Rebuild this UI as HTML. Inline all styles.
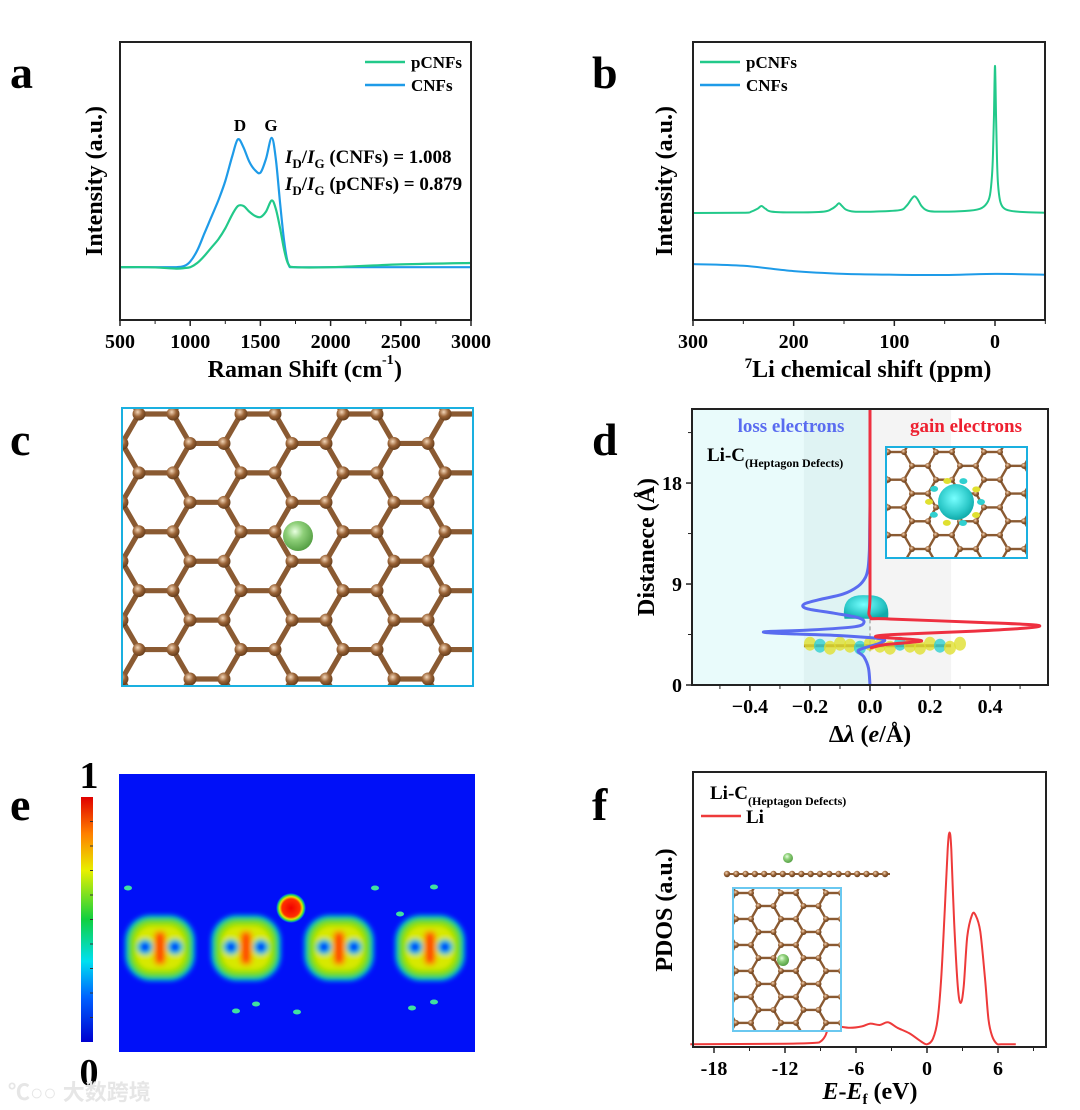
<!DOCTYPE html>
<html><head><meta charset="utf-8"><style>
html,body{margin:0;padding:0;background:#fff;}
svg{display:block;font-family:"Liberation Serif",serif;font-weight:bold;}
</style></head><body>
<svg id="fig" width="1080" height="1110" viewBox="0 0 1080 1110" xmlns="http://www.w3.org/2000/svg">
<defs>
<radialGradient id="liG" cx="0.4" cy="0.35" r="0.7"><stop offset="0" stop-color="#e8ffe0"/><stop offset="0.4" stop-color="#8fd07a"/><stop offset="1" stop-color="#4f9a3e"/></radialGradient>
<radialGradient id="cG" cx="0.4" cy="0.35" r="0.7"><stop offset="0" stop-color="#f3d6b8"/><stop offset="0.5" stop-color="#9a6336"/><stop offset="1" stop-color="#5e3818"/></radialGradient>
<radialGradient id="cyG" cx="0.45" cy="0.4" r="0.6"><stop offset="0" stop-color="#7ff"/><stop offset="0.7" stop-color="#2cc9c9"/><stop offset="1" stop-color="#1aa"/></radialGradient>
<linearGradient id="cbar" x1="0" y1="1" x2="0" y2="0">
<stop offset="0" stop-color="#0000d0"/><stop offset="0.18" stop-color="#0060ff"/><stop offset="0.33" stop-color="#00e0f0"/><stop offset="0.5" stop-color="#10d040"/><stop offset="0.7" stop-color="#e8f000"/><stop offset="0.85" stop-color="#ff8000"/><stop offset="1" stop-color="#e00000"/></linearGradient>
<radialGradient id="liBlob"><stop offset="0" stop-color="#f00000"/><stop offset="0.6" stop-color="#ff3000"/><stop offset="0.75" stop-color="#e8e000"/><stop offset="0.88" stop-color="#20d060"/><stop offset="1" stop-color="#00b0ff" stop-opacity="0"/></radialGradient>
<filter id="blur2"><feGaussianBlur stdDeviation="2.5"/></filter>
<clipPath id="clipC"><rect x="122" y="408" width="351" height="278"/></clipPath>
<clipPath id="clipD"><rect x="886" y="447" width="141" height="111"/></clipPath>
<clipPath id="clipF"><rect x="733" y="888" width="108" height="143"/></clipPath>
</defs>
<g id="root"></g>
<text x="8" y="1100" font-family="Liberation Sans, Noto Sans CJK SC, sans-serif" font-size="22" fill="#e6e6e6">℃○○ 大数跨境</text>
</svg>
<script>
// ---------- Panel a data ----------
const ramanX = [500,700,900,960,1000,1050,1100,1150,1200,1250,1300,1340,1380,1420,1460,1500,1540,1580,1610,1640,1670,1700,1750,2000,2500,3000];
const ramanCNFs = [0.19,0.19,0.19,0.195,0.21,0.25,0.31,0.37,0.43,0.50,0.59,0.65,0.62,0.57,0.54,0.53,0.58,0.655,0.58,0.42,0.28,0.2,0.19,0.19,0.19,0.19];
const ramanPCNFs = [0.19,0.19,0.185,0.187,0.19,0.205,0.23,0.26,0.29,0.33,0.38,0.41,0.41,0.39,0.375,0.37,0.39,0.43,0.40,0.33,0.25,0.2,0.19,0.19,0.20,0.205];
const ramanTicks = [500,1000,1500,2000,2500,3000];
// ---------- Panel b data ----------
const nmrX = [300,250,242,236,232,228,222,200,170,162,158,155,152,148,140,120,95,88,83,80,77,73,68,60,30,15,8,5,3,2,1,0.5,0,-0.5,-1,-2,-3,-5,-8,-15,-30,-50];
const nmrPCNFs = [0.385,0.386,0.39,0.40,0.41,0.40,0.39,0.387,0.39,0.40,0.41,0.42,0.41,0.397,0.39,0.39,0.395,0.41,0.435,0.445,0.435,0.41,0.395,0.39,0.392,0.40,0.42,0.45,0.52,0.60,0.74,0.85,0.914,0.85,0.74,0.58,0.49,0.43,0.405,0.393,0.388,0.386];
const nmrCNFsX = [300,250,200,150,100,50,0,-50];
const nmrCNFs = [0.201,0.195,0.176,0.166,0.163,0.162,0.166,0.163];
const nmrTicks = [300,200,100,0];
// ---------- Panel d data ----------
const lossD = [0,1.5,2.5,3.0,3.3,3.7,4.1,4.4,4.6,4.75,4.9,5.2,5.6,6.0,6.4,6.8,7.2,7.6,8.1,8.8,9.6,10.5,12,14,16];
const lossV = [0,-0.005,-0.02,-0.04,-0.02,0.03,0.04,-0.1,-0.3,-0.35,-0.2,-0.05,-0.02,-0.04,-0.12,-0.21,-0.22,-0.17,-0.09,-0.04,-0.015,-0.006,-0.002,-0.001,0];
const gainD = [3.3,3.6,3.9,4.1,4.3,4.5,4.8,5.1,5.35,5.6,5.9,6.1,8,16,24.6];
const gainV = [0.0,0.05,0.17,0.12,0.02,0.08,0.35,0.53,0.55,0.35,0.05,0.0,0.0,0.0,0.0];
const dXTicks = [-0.4,-0.2,0.0,0.2,0.4];
const dYTicks = [0,9,18];
// ---------- Panel f data ----------
const pdosE = [-20,-12,-9.5,-9,-8.6,-8.2,-7.5,-6.5,-5.5,-4.8,-4,-3.3,-2.5,-1.5,-0.5,0,0.5,0.9,1.2,1.5,1.75,1.9,2.05,2.3,2.6,2.85,3.1,3.4,3.8,4.1,4.5,4.9,5.2,5.5,5.9,6.3,7.5];
const pdosV = [0.01,0.012,0.015,0.02,0.04,0.08,0.075,0.07,0.075,0.085,0.08,0.09,0.07,0.05,0.02,0.01,0.03,0.1,0.25,0.5,0.72,0.78,0.72,0.45,0.22,0.16,0.22,0.40,0.48,0.48,0.42,0.25,0.1,0.04,0.012,0.01,0.01];
const pdosTicks = [-18,-12,-6,0,6];
// ---------- Panel e data ----------
const blobX = [160,246,339,430];

const NS='http://www.w3.org/2000/svg';
const root=document.getElementById('root');
function el(tag,attrs,parent,txt){const e=document.createElementNS(NS,tag);for(const k in attrs)e.setAttribute(k,attrs[k]);if(txt!==undefined)e.textContent=txt;(parent||root).appendChild(e);return e;}
function lin(d0,d1,r0,r1){return v=>r0+(v-d0)/(d1-d0)*(r1-r0);}
function smooth(xs,ys,fx,fy){const p=xs.map((x,i)=>[fx(x),fy(ys[i])]);let d='M'+p[0][0].toFixed(1)+','+p[0][1].toFixed(1);
  for(let i=0;i<p.length-1;i++){const p0=p[i-1]||p[i],p1=p[i],p2=p[i+1],p3=p[i+2]||p2;
   const c1=[p1[0]+(p2[0]-p0[0])/6,p1[1]+(p2[1]-p0[1])/6],c2=[p2[0]-(p3[0]-p1[0])/6,p2[1]-(p3[1]-p1[1])/6];
   d+=` C${c1[0].toFixed(1)},${c1[1].toFixed(1)} ${c2[0].toFixed(1)},${c2[1].toFixed(1)} ${p2[0].toFixed(1)},${p2[1].toFixed(1)}`;}return d;}
function box(x,y,w,h,name,stroke){const r=el('rect',{x,y,width:w,height:h,fill:'none',stroke:stroke||'#222','stroke-width':2});return r;}
function label(x,y,t,name,size,extra){const e=el('text',Object.assign({x,y,'font-size':size||46,fill:'#000'},extra||{}),root,t);return e;}
function xticks(ticks,fx,y0,name,fmt,minor){const g=el('g',{});
  ticks.forEach(t=>{el('line',{x1:fx(t),x2:fx(t),y1:y0,y2:y0+6,stroke:'#222','stroke-width':1.5},g);
   const tx=el('text',{x:fx(t),y:y0+28,'text-anchor':'middle','font-size':20},g,fmt?fmt(t):String(t));});
  (minor||[]).forEach(t=>el('line',{x1:fx(t),x2:fx(t),y1:y0,y2:y0+4,stroke:'#222','stroke-width':1},g));}
function line(xs,ys,fx,fy,color,w,name){const p=el('path',{d:smooth(xs,ys,fx,fy),fill:'none',stroke:color,'stroke-width':w,'stroke-linejoin':'round'});return p;}

// ===== Panel a =====
{const fx=lin(500,3000,120,471), fy=lin(0,1,320,42);
label(10,88,'a','panel-label-a');
line(ramanX,ramanCNFs,fx,fy,'#1e9be8',2.2,'cnfs-raman-line');
line(ramanX,ramanPCNFs,fx,fy,'#22c98a',2.2,'pcnfs-raman-line');
box(120,42,351,278,'plot-frame-a');
xticks(ramanTicks,fx,320,'x-axis-a',null,[750,1250,1750,2250,2750]);
label(295,377,'Raman Shift (cm','x-axis-title-a',24,{'text-anchor':'middle'});
label(382,364,'-1','x-axis-sup-a',14);label(394,377,')','x-axis-paren-a',24);
label(102,181,'Intensity (a.u.)','y-axis-title-a',24,{'text-anchor':'middle',transform:'rotate(-90 102 181)'});
label(240,131,'D','peak-label-d',17,{'text-anchor':'middle'});label(271,131,'G','peak-label-g',17,{'text-anchor':'middle'});
const t1=label(285,163,'','ratio-cnfs',19);t1.innerHTML='<tspan font-style="italic">I</tspan><tspan font-size="13" dy="5">D</tspan><tspan dy="-5">/</tspan><tspan font-style="italic">I</tspan><tspan font-size="13" dy="5">G</tspan><tspan dy="-5"> (CNFs) = 1.008</tspan>';
const t2=label(285,190,'','ratio-pcnfs',19);t2.innerHTML='<tspan font-style="italic">I</tspan><tspan font-size="13" dy="5">D</tspan><tspan dy="-5">/</tspan><tspan font-style="italic">I</tspan><tspan font-size="13" dy="5">G</tspan><tspan dy="-5"> (pCNFs) = 0.879</tspan>';
el('line',{x1:365,x2:405,y1:62,y2:62,stroke:'#22c98a','stroke-width':2.5});label(411,68,'pCNFs','legend-pcnfs-a',17);
el('line',{x1:365,x2:405,y1:85,y2:85,stroke:'#1e9be8','stroke-width':2.5});label(411,91,'CNFs','legend-cnfs-a',17);}

// ===== Panel b =====
{const fx=lin(300,0,693,995), fy=lin(0,1,320,42);
label(592,88,'b','panel-label-b');
line(nmrX,nmrPCNFs,fx,fy,'#22c98a',2,'pcnfs-nmr-line');
line(nmrCNFsX,nmrCNFs,fx,fy,'#1e9be8',2,'cnfs-nmr-line');
box(693,42,352,278,'plot-frame-b');
xticks(nmrTicks,fx,320,'x-axis-b',null,[250,150,50,-50]);
const xt=label(868,377,'','x-axis-title-b',24,{'text-anchor':'middle'});xt.innerHTML='<tspan font-size="15" dy="-9">7</tspan><tspan dy="9">Li chemical shift (ppm)</tspan>';
label(672,181,'Intensity (a.u.)','y-axis-title-b',24,{'text-anchor':'middle',transform:'rotate(-90 672 181)'});
el('line',{x1:700,x2:740,y1:62,y2:62,stroke:'#22c98a','stroke-width':2.5});label(746,68,'pCNFs','legend-pcnfs-b',17);
el('line',{x1:700,x2:740,y1:85,y2:85,stroke:'#1e9be8','stroke-width':2.5});label(746,91,'CNFs','legend-cnfs-b',17);}

// ===== lattice helper =====
function lattice(x0,y0,a,cols,rows,clip,name,r){
  const g=el('g',{'clip-path':'url(#'+clip+')'});
  const h=Math.sqrt(3)/2*a, pts=[];
  for(let j=-1;j<rows;j++)for(let i=-1;i<cols;i++){const off=(j%2+2)%2?1.5*a:0;const bx=x0+i*3*a+off, by=y0+j*h;pts.push([bx,by],[bx+a,by]);}
  const bonds=[];
  for(let m=0;m<pts.length;m++)for(let n=m+1;n<pts.length;n++){const dx=pts[m][0]-pts[n][0],dy=pts[m][1]-pts[n][1];const d=Math.hypot(dx,dy);if(Math.abs(d-a)<0.5)bonds.push([pts[m],pts[n]]);}
  bonds.forEach(b=>el('line',{x1:b[0][0],y1:b[0][1],x2:b[1][0],y2:b[1][1],stroke:'#8a5a32','stroke-width':r*0.8},g));
  pts.forEach(p=>el('circle',{cx:p[0],cy:p[1],r:r,fill:'url(#cG)'},g));
  return g;}

// ===== Panel c =====
label(10,455,'c','panel-label-c');
el('rect',{x:122,y:408,width:351,height:278,fill:'#fff'});
lattice(139,414,34,5,11,'clipC','graphene-lattice-c',6.5);
{const li=el('circle',{cx:298,cy:536,r:15,fill:'url(#liG)'});}
box(122,408,351,278,'image-frame-c','#1ab0e0');

// ===== Panel d =====
{const fx=lin(-0.593,0.593,692,1048), fy=lin(0,24.6,685,409);
label(592,455,'d','panel-label-d');
el('rect',{x:692,y:409,width:fx(0)-692,height:276,fill:'#e9fbfb'});
el('rect',{x:fx(-0.22),y:409,width:fx(0)-fx(-0.22),height:276,fill:'#dff3f3'});
el('rect',{x:fx(0),y:409,width:fx(0.27)-fx(0),height:276,fill:'#f4f4f4'});
el('line',{x1:fx(0),x2:fx(0),y1:fy(3),y2:fy(10),stroke:'#888','stroke-dasharray':'4 3'});
el('line',{x1:fx(-0.22),x2:fx(0.27),y1:fy(3.5),y2:fy(3.5),stroke:'#8a5a32','stroke-width':3});
for(let k=0;k<16;k++){el('ellipse',{cx:fx(-0.2)+k*10,cy:fy(3.5)+(k%3-1)*2,rx:6,ry:7,fill:k%4==1?'#30d0d0':'#e0e030',opacity:0.8});}
const iso=el('path',{d:`M${fx(-0.085)},${fy(5.9)} Q${fx(-0.1)},${fy(8.2)} ${fx(-0.01)},${fy(8.0)} Q${fx(0.07)},${fy(8.1)} ${fx(0.06)},${fy(5.9)} Z`,fill:'url(#cyG)'});
line(lossV,lossD,fx,fy,'#5a6cf0',3,'loss-electrons-line');
line(gainV,gainD,fx,fy,'#ee3040',3,'gain-electrons-line');
box(692,409,356,276,'plot-frame-d');
xticks(dXTicks,fx,685,'x-axis-d',t=>(t<0?'\u2212':'')+Math.abs(t).toFixed(1),[-0.5,-0.3,-0.1,0.1,0.3,0.5]);
const yg=el('g',{});
dYTicks.forEach(t=>{el('line',{x1:692,x2:686,y1:fy(t),y2:fy(t),stroke:'#222','stroke-width':1.5},yg);el('text',{x:682,y:fy(t)+7,'text-anchor':'end','font-size':20},yg,String(t));});
[4.5,13.5,22.5].forEach(t=>el('line',{x1:692,x2:688,y1:fy(t),y2:fy(t),stroke:'#222'},yg));
const xtd=label(870,742,'','x-axis-title-d',24,{'text-anchor':'middle'});xtd.innerHTML='Δ<tspan font-style="italic">λ</tspan> (<tspan font-style="italic">e</tspan>/Å)';
label(654,547,'Distanece (Å)','y-axis-title-d',24,{'text-anchor':'middle',transform:'rotate(-90 654 547)'});
label(791,432,'loss electrons','loss-electrons-label',19,{'text-anchor':'middle',fill:'#5a6cf0'});
label(966,432,'gain electrons','gain-electrons-label',19,{'text-anchor':'middle',fill:'#ee2030'});
const lc=label(707,461,'','system-label-d',19);lc.innerHTML='Li-C<tspan font-size="12" dy="6">(Heptagon Defects)</tspan>';
el('rect',{x:886,y:447,width:141,height:111,fill:'#fff'});
lattice(888,452,16,4,9,'clipD','inset-lattice-d',3);
for(let k=0;k<10;k++){const ang=k*0.63;el('ellipse',{cx:955+Math.cos(ang)*26,cy:502+Math.sin(ang)*22,rx:4,ry:3,fill:k%2?'#e0e030':'#30d0d0'});}
el('circle',{cx:956,cy:502,r:18,fill:'url(#cyG)'});
box(886,447,141,111,'inset-frame-d','#1ab0e0');}

// ===== Panel e =====
label(10,820,'e','panel-label-e');
{const hm=el('rect',{x:119,y:774,width:356,height:278,fill:'#0010f8'});
const layers=[[70,66,26,'#00b8f0'],[66,62,24,'#10d050'],[58,54,20,'#90e000'],[48,44,16,'#d8e800']];
blobX.forEach(x=>{const b=el('g',{filter:'url(#blur2)'});
 layers.forEach(l=>el('rect',{x:x-l[0]/2,y:948-l[1]/2,width:l[0],height:l[1],rx:l[2],fill:l[3]},b));
 el('circle',{cx:x-15,cy:947,r:8,fill:'#10c0d0'},b);el('circle',{cx:x+15,cy:947,r:8,fill:'#10c0d0'},b);
 el('circle',{cx:x-15,cy:947,r:4.5,fill:'#0030ff'},b);el('circle',{cx:x+15,cy:947,r:4.5,fill:'#0030ff'},b);
 el('rect',{x:x-7,y:930,width:14,height:36,rx:6,fill:'#f0b000'},b);
 el('rect',{x:x-4,y:933,width:8,height:30,rx:4,fill:'#ff4800'},b);});
const lb=el('circle',{cx:291,cy:908,r:15,fill:'url(#liBlob)'});
[[128,888],[236,1011],[256,1004],[297,1012],[412,1008],[434,1002],[375,888],[434,887],[400,914]].forEach(p=>el('ellipse',{cx:p[0],cy:p[1],rx:4,ry:2.5,fill:'#40e0a0'}));
const cb=el('rect',{x:81,y:797,width:12,height:245,fill:'url(#cbar)'});
for(let k=1;k<10;k++)el('line',{x1:90,x2:93,y1:797+k*24.5,y2:797+k*24.5,stroke:'#333'});
label(89,788,'1','colorbar-max',38,{'text-anchor':'middle'});label(89,1085,'0','colorbar-min',38,{'text-anchor':'middle'});}

// ===== Panel f =====
{const fx=lin(0,6,927,998), fy=lin(0,1,1047,772);
label(592,820,'f','panel-label-f');
line(pdosE,pdosV,fx,fy,'#ee3a3a',2,'li-pdos-line');
box(693,772,353,275,'plot-frame-f');
xticks(pdosTicks,fx,1047,'x-axis-f',null,[-15,-9,-3,3,9]);
const xtf=label(870,1099,'','x-axis-title-f',24,{'text-anchor':'middle'});xtf.innerHTML='<tspan font-style="italic">E</tspan>-<tspan font-style="italic">E</tspan><tspan font-size="15" dy="5">f</tspan><tspan dy="-5"> (eV)</tspan>';
label(672,910,'PDOS (a.u.)','y-axis-title-f',24,{'text-anchor':'middle',transform:'rotate(-90 672 910)'});
const lf=label(710,799,'','system-label-f',19);lf.innerHTML='Li-C<tspan font-size="12" dy="6">(Heptagon Defects)</tspan>';
el('line',{x1:701,x2:741,y1:816,y2:816,stroke:'#ee3a3a','stroke-width':2.5});label(746,823,'Li','legend-li',19);
const sv=el('g',{});
el('line',{x1:725,x2:890,y1:874,y2:874,stroke:'#8a5a32','stroke-width':2},sv);
for(let k=0;k<18;k++)el('circle',{cx:727+k*9.3,cy:874,r:3.2,fill:'url(#cG)'},sv);
el('circle',{cx:788,cy:858,r:5,fill:'url(#liG)'},sv);
el('rect',{x:733,y:888,width:108,height:143,fill:'#fff'});
lattice(736,893,15,4,13,'clipF','inset-lattice-f',3);
el('circle',{cx:783,cy:960,r:6,fill:'url(#liG)'});
box(733,888,108,143,'inset-frame-f','#6ac8f0');}
</script>
</body></html>
